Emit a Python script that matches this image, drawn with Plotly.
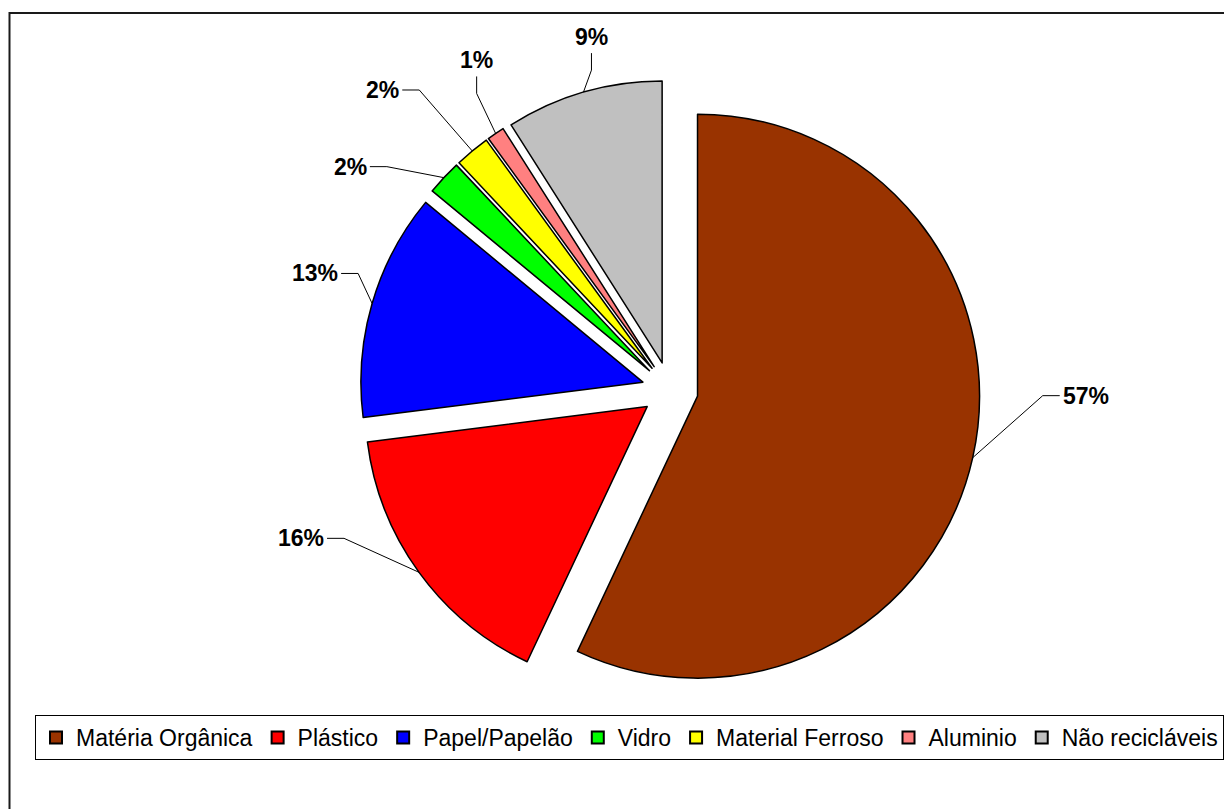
import math
import plotly.graph_objects as go

# Composição dos resíduos (percentual em massa)
categories = ["Matéria Orgânica", "Plástico", "Papel/Papelão", "Vidro",
              "Material Ferroso", "Aluminio", "Não recicláveis"]
shares = [57, 16, 13, 2, 2, 1, 9]
colors = ["#993300", "#FF0000", "#0000FF", "#00FF00",
          "#FFFF00", "#FF8080", "#C0C0C0"]

# Canvas and pie geometry (pixels)
W, H = 1224, 809
PULL = 0.1
CX, CY, R = 670, 390, 282
FONT = "Liberation Sans, Arial, sans-serif"

# Leader-line bends for each percentage label: elbow offset from the slice
# edge, direction of the short tail, and tail length
LEADER_ELBOW = [(70, -62), (-75, -34), (-14, -30), (-57, -11),
                (-53, -61), (-19, -40), (8, -22)]
LEADER_TAIL = ["right", "left", "left", "left", "left", "up", "up"]
TAIL_LEN = 17

box = 2 * R * (1 + PULL)
dom_x = [(CX - box / 2) / W, (CX + box / 2) / W]
dom_y = [1 - (CY + box / 2) / H, 1 - (CY - box / 2) / H]


def px(x):
    return x / W


def py(y):
    return 1 - y / H


fig = go.Figure(go.Pie(
    labels=categories,
    values=shares,
    sort=False,
    direction="clockwise",
    rotation=0,
    pull=[PULL] * len(shares),
    marker=dict(colors=colors, line=dict(color="#000000", width=1.5)),
    textinfo="none",
    hoverinfo="label+percent",
    domain=dict(x=dom_x, y=dom_y),
))

# Percentage labels with leader lines, anchored at each slice's mid-angle
total = sum(shares)
cum = 0
shapes = []
annotations = []
for v, (ex, ey), tail in zip(shares, LEADER_ELBOW, LEADER_TAIL):
    mid = 2 * math.pi * (cum + v / 2) / total
    cum += v
    rr = R * (1 + PULL)
    sx, sy = CX + rr * math.sin(mid), CY - rr * math.cos(mid)
    bx, by = sx + ex, sy + ey
    if tail == "right":
        tx, ty = bx + TAIL_LEN, by
        ann = dict(x=px(tx + 1), y=py(ty), xanchor="left", yanchor="middle")
    elif tail == "left":
        tx, ty = bx - TAIL_LEN, by
        ann = dict(x=px(tx - 1), y=py(ty), xanchor="right", yanchor="middle")
    else:
        tx, ty = bx, by - TAIL_LEN
        ann = dict(x=px(tx), y=py(ty - 1), xanchor="center", yanchor="bottom")
    shapes.append(dict(
        type="path", xref="paper", yref="paper",
        path=f"M{px(sx)},{py(sy)} L{px(bx)},{py(by)} L{px(tx)},{py(ty)}",
        line=dict(color="#000000", width=1),
    ))
    annotations.append(dict(
        xref="paper", yref="paper", showarrow=False,
        text=f"{v / total:.0%}",
        font=dict(family=FONT, size=23, color="#000000", weight="bold"),
        **ann,
    ))

# Chart-area frame
shapes.append(dict(
    type="rect", xref="paper", yref="paper",
    x0=px(9.5), y0=py(13), x1=px(W + 10), y1=py(H + 10),
    line=dict(color="#1a1a1a", width=2), fillcolor="rgba(0,0,0,0)",
    layer="below",
))

fig.update_layout(
    width=W, height=H,
    margin=dict(l=0, r=0, t=0, b=0),
    paper_bgcolor="#FFFFFF",
    plot_bgcolor="#FFFFFF",
    font=dict(family=FONT, color="#000000"),
    showlegend=True,
    legend=dict(
        orientation="h",
        x=632 / W, xanchor="center",
        y=py(737.5), yanchor="middle",
        bordercolor="#000000", borderwidth=1,
        bgcolor="#FFFFFF",
        font=dict(family=FONT, size=23, color="#000000"),
        itemsizing="constant",
    ),
    shapes=shapes,
    annotations=annotations,
)

fig.write_html("out.html")
